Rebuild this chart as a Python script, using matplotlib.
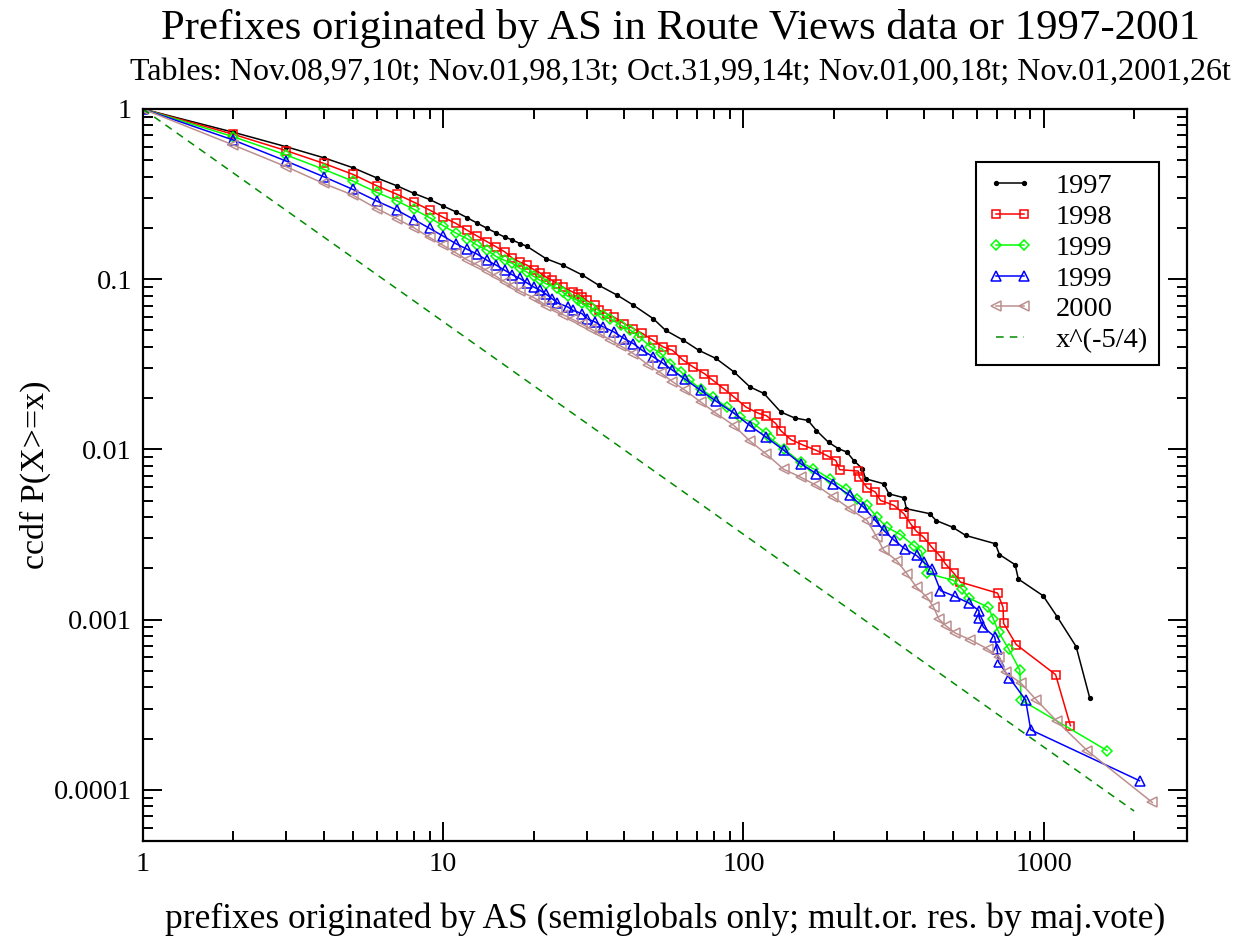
import matplotlib
matplotlib.use("Agg")
import matplotlib.pyplot as plt
from matplotlib.ticker import FixedLocator, NullFormatter, LogLocator

plt.rcParams['font.family'] = ['Liberation Serif', 'DejaVu Serif']

# ccdf of prefixes originated per AS
x_1997 = [1, 2, 3, 4, 5, 6, 7, 8, 9, 10, 11, 12, 13, 14, 15, 16, 17, 18, 19,
          22, 25, 29, 33, 38, 43, 50, 55, 63, 71, 81, 93, 105, 117, 133, 148,
          164, 175, 192, 207, 221, 233, 249, 255, 293, 305, 342, 349, 417, 438,
          497, 550, 690, 712, 803, 823, 995, 1108, 1282, 1423]
y_1997 = [1.0, 0.73, 0.60, 0.517, 0.452, 0.394, 0.354, 0.319, 0.294, 0.269,
          0.249, 0.23, 0.213, 0.199, 0.187, 0.177, 0.170, 0.162, 0.156,
          0.132, 0.121, 0.106, 0.092, 0.0805, 0.0703, 0.0587, 0.0501, 0.0438,
          0.0382, 0.0342, 0.0285, 0.0233, 0.0213, 0.0166, 0.0153, 0.0148,
          0.0129, 0.0110, 0.0101, 0.00964, 0.0086, 0.00769, 0.00672, 0.00628,
          0.00548, 0.0052, 0.00448, 0.00419, 0.00382, 0.00349, 0.00312,
          0.00279, 0.00241, 0.0021, 0.00173, 0.00138, 0.00104, 0.000694,
          0.000346]

x_1998 = [1, 2, 3, 4, 5, 6, 7, 8, 9, 10, 11, 12, 13, 14, 15, 16, 17, 18, 19,
          20, 21, 22, 23, 24, 25, 27, 28, 29, 30, 32, 33, 35, 37, 40, 43, 46,
          50, 54, 58, 63, 68, 74, 79, 86, 93, 102, 113, 119, 128, 133, 144,
          158, 175, 189, 203, 209, 241, 243, 258, 275, 286, 317, 342, 360, 376,
          398, 424, 453, 471, 502, 528, 702, 732, 735, 810, 1095, 1227]
y_1998 = [1.0, 0.71, 0.569, 0.479, 0.413, 0.354, 0.316, 0.283, 0.255, 0.231,
          0.213, 0.194, 0.179, 0.166, 0.155, 0.145, 0.133, 0.126, 0.121,
          0.114, 0.109, 0.103, 0.0986, 0.094, 0.090, 0.084, 0.082, 0.079,
          0.0752, 0.0703, 0.0657, 0.0627, 0.0599, 0.0549, 0.0513, 0.048,
          0.0438, 0.040, 0.0382, 0.0334, 0.0305, 0.0279, 0.0255, 0.0227,
          0.0203, 0.0177, 0.0162, 0.0158, 0.0142, 0.0129, 0.0114, 0.0106,
          0.00986, 0.00922, 0.0086, 0.0076, 0.00746, 0.00687, 0.00595,
          0.00561, 0.00501, 0.00469, 0.00419, 0.00366, 0.00331, 0.00305,
          0.00266, 0.00235, 0.00212, 0.00187, 0.00166, 0.00143, 0.00118,
          0.00095, 0.000713, 0.000475, 0.000238]

x_1999a = [1, 2, 3, 4, 5, 6, 7, 8, 9, 10, 11, 12, 13, 14, 15, 16, 17, 18, 19,
           20, 21, 22, 24, 25, 26, 28, 29, 31, 32, 34, 36, 39, 42, 45, 49, 53,
           57, 62, 66, 72, 79, 88, 97, 108, 119, 123, 136, 155, 171, 194, 219,
           239, 258, 278, 300, 333, 369, 391, 409, 500, 535, 563, 653, 679, 708,
           764, 832, 841, 1625]
y_1999a = [1.0, 0.687, 0.537, 0.442, 0.377, 0.324, 0.289, 0.257, 0.23, 0.206,
           0.187, 0.173, 0.158, 0.148, 0.136, 0.129, 0.124, 0.116, 0.11,
           0.104, 0.0986, 0.094, 0.0886, 0.084, 0.0794, 0.0752, 0.072,
           0.0682, 0.0644, 0.0615, 0.0587, 0.0536, 0.0501, 0.0459, 0.040,
           0.0366, 0.0319, 0.0285, 0.0255, 0.0227, 0.0203, 0.0177, 0.0155,
           0.0142, 0.0124, 0.0116, 0.0101, 0.0084, 0.00769, 0.00672, 0.00587,
           0.00513, 0.00469, 0.004, 0.00349, 0.00316, 0.00272, 0.00252,
           0.00187, 0.0017, 0.00151, 0.00134, 0.00118, 0.00101, 0.000842,
           0.000672, 0.000506, 0.000337, 0.00017]

x_1999b = [1, 2, 3, 4, 5, 6, 7, 8, 9, 10, 11, 12, 13, 14, 15, 16, 17, 18, 19,
           20, 21, 22, 23, 24, 26, 27, 29, 30, 32, 34, 37, 40, 43, 46, 50, 54,
           58, 64, 72, 81, 93, 105, 119, 136, 155, 175, 199, 226, 251, 275, 293,
           318, 344, 377, 398, 424, 453, 505, 563, 608, 610, 630, 686, 699, 708,
           769, 870, 905, 2085]
y_1999b = [1.0, 0.657, 0.494, 0.40, 0.337, 0.288, 0.255, 0.224, 0.199, 0.179,
           0.162, 0.15, 0.14, 0.129, 0.121, 0.113, 0.106, 0.101, 0.0951,
           0.090, 0.0861, 0.0816, 0.077, 0.0726, 0.0686, 0.0657, 0.0627,
           0.0587, 0.0561, 0.0525, 0.049, 0.0448, 0.0418, 0.0382, 0.0350,
           0.0320, 0.0292, 0.0258, 0.0222, 0.0192, 0.0163, 0.0138, 0.0118,
           0.0099, 0.00824, 0.0072, 0.00628, 0.00536, 0.00458, 0.00382,
           0.00334, 0.00292, 0.00261, 0.00238, 0.00217, 0.00199, 0.00148,
           0.00137, 0.00125, 0.00113, 0.00102, 0.000901, 0.000794, 0.000672,
           0.000561, 0.000454, 0.000337, 0.000225, 0.000113]

x_2000 = [1, 2, 3, 4, 5, 6, 7, 8, 9, 10, 11, 12, 13, 14, 15, 16, 17, 18, 20,
          21, 22, 24, 25, 27, 29, 31, 33, 36, 39, 43, 48, 53, 58, 64, 72, 81,
          93, 105, 119, 136, 155, 175, 199, 226, 258, 278, 293, 324, 350, 377,
          409, 430, 447, 471, 508, 570, 650, 712, 746, 841, 945, 1108, 1395,
          2300]
y_2000 = [1.0, 0.614, 0.458, 0.365, 0.312, 0.26, 0.227, 0.20, 0.176, 0.158,
          0.143, 0.13, 0.121, 0.112, 0.104, 0.0965, 0.091, 0.085, 0.078,
          0.074, 0.070, 0.0655, 0.062, 0.058, 0.0545, 0.051, 0.048,
          0.044, 0.0405, 0.0365, 0.0315, 0.0282, 0.0250, 0.0222, 0.0190,
          0.0163, 0.0138, 0.0112, 0.0094, 0.00765, 0.00687, 0.00614, 0.00525,
          0.00448, 0.00382, 0.00305, 0.00255, 0.00222, 0.00186, 0.00155,
          0.00135, 0.00118, 0.00101, 0.000922, 0.000832, 0.00076, 0.000672,
          0.0006, 0.00049, 0.000422, 0.000337, 0.000252, 0.00017, 0.0000842]

# reference power law x^(-5/4), endpoints only (straight on log-log)
x_ref = [1, 2000]
y_ref = [1.0, 7.5e-5]

fig = plt.figure(figsize=(12.4, 9.42), dpi=100)
ax = fig.add_axes([143 / 1240, 1 - 841 / 942, 1044 / 1240, 732 / 942])

lw = 1.1
ax.plot(x_1997, y_1997, color='black', lw=lw, marker='o', ms=2.8,
        mfc='black', mec='black', label='1997')
ax.plot(x_1998, y_1998, color='red', lw=lw, marker='s', ms=5.5,
        mfc='none', mec='red', mew=1.1, label='1998')
ax.plot(x_1999a, y_1999a, color='#00ff00', lw=lw, marker='D', ms=4.8,
        mfc='none', mec='#00ff00', mew=1.1, label='1999')
ax.plot(x_1999b, y_1999b, color='blue', lw=lw, marker='^', ms=6.5,
        mfc='none', mec='blue', mew=1.1, label='1999')
ax.plot(x_2000, y_2000, color='#bc8f8f', lw=lw, marker='<', ms=6.5,
        mfc='none', mec='#bc8f8f', mew=1.1, label='2000')
ax.plot(x_ref, y_ref, color='#008b00', lw=1.1, ls=(0, (5, 4)),
        label='x^(-5/4)')

ax.set_xscale('log')
ax.set_yscale('log')
ax.set_xlim(1, 3000)
ax.set_ylim(5e-5, 1)

ax.xaxis.set_major_locator(FixedLocator([1, 10, 100, 1000]))
ax.set_xticklabels(['1', '10', '100', '1000'])
ax.yaxis.set_major_locator(FixedLocator([1, 0.1, 0.01, 0.001, 0.0001]))
ax.set_yticklabels(['1', '0.1', '0.01', '0.001', '0.0001'])
ax.xaxis.set_minor_locator(LogLocator(base=10, subs=range(2, 10)))
ax.yaxis.set_minor_locator(LogLocator(base=10, subs=range(2, 10)))
ax.xaxis.set_minor_formatter(NullFormatter())
ax.yaxis.set_minor_formatter(NullFormatter())

ax.tick_params(which='both', direction='in', top=True, right=True,
               labelsize=20.3, width=1.4, color='black')
ax.tick_params(which='major', length=14, pad=8)
ax.tick_params(which='minor', length=7)
for sp in ax.spines.values():
    sp.set_linewidth(1.6)

ax.set_xlabel('prefixes originated by AS (semiglobals only; mult.or. res. by maj.vote)',
              fontsize=25.5, labelpad=18)
ax.set_ylabel('ccdf P(X>=x)', fontsize=24.5, labelpad=2)

fig.text(681 / 1240, 1 - 29 / 942,
         'Prefixes originated by AS in Route Views data or 1997-2001',
         ha='center', va='center', fontsize=30.8)
fig.text(680 / 1240, 1 - 72 / 942,
         'Tables: Nov.08,97,10t; Nov.01,98,13t; Oct.31,99,14t; Nov.01,00,18t; Nov.01,2001,26t',
         ha='center', va='center', fontsize=23)

leg = ax.legend(loc='upper right', bbox_to_anchor=(1159 / 1240, 1 - 162 / 942),
                bbox_transform=fig.transFigure, borderaxespad=0, numpoints=2,
                fontsize=20.5, handlelength=1.6, handletextpad=0.8,
                labelspacing=0.17, borderpad=0.4, fancybox=False,
                framealpha=1, edgecolor='black')
leg.get_frame().set_linewidth(1.5)

fig.savefig('out.png', dpi=100)
